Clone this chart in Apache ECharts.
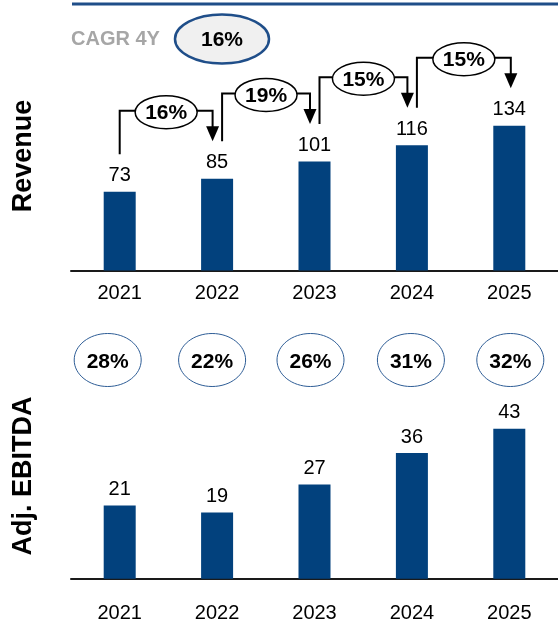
<!DOCTYPE html>
<html>
<head>
<meta charset="utf-8">
<script src="https://cdn.jsdelivr.net/npm/echarts@6/dist/echarts.min.js"></script>
<style>
  html, body { margin: 0; padding: 0; background: #fff; }
  #main { width: 558px; height: 624px; }
</style>
</head>
<body>
<div id="main"></div>
<script>
// data
var years = ['2021', '2022', '2023', '2024', '2025'];
var revenue = [73, 85, 101, 116, 134];
var revenueGrowth = ['16%', '19%', '15%', '15%'];
var ebitda = [21, 19, 27, 36, 43];
var ebitdaMargin = ['28%', '22%', '26%', '31%', '32%'];
var cagrLabel = 'CAGR 4Y';
var cagrValue = '16%';

var FONT = '"Liberation Sans", Arial, sans-serif';
var BAR = '#02417d';
var NAVY = '#1f4e89';
// small horizontal nudges of the margin ovals, as in the picture
var marginNudge = [-12, -5, -4, -1, 1];

var chart = echarts.init(document.getElementById('main'), null, { renderer: 'canvas' });

function bracketItem(params, api) {
  var i = params.dataIndex;
  var p0 = api.coord([i, revenue[i]]);
  var p1 = api.coord([i + 1, revenue[i + 1]]);
  var x0 = p0[0] + (i === 0 ? 0 : 5);
  var x1 = p1[0] + (i + 1 === revenue.length - 1 ? 1.5 : -4.5);
  var yStart = p0[1] - 37.5;
  var yTip = p1[1] - 37.5;
  var yTop = p1[1] - 68;
  var cx = (x0 + x1) / 2;
  var cy = yTop + 1.5;
  return {
    type: 'group',
    children: [
      {
        type: 'polyline',
        shape: { points: [[x0, yStart], [x0, yTop], [x1, yTop], [x1, yTip - 14]] },
        style: { stroke: '#000', lineWidth: 2, fill: null }
      },
      {
        type: 'polygon',
        shape: { points: [[x1 - 6.5, yTip - 15], [x1 + 6.5, yTip - 15], [x1, yTip]] },
        style: { fill: '#000' }
      },
      {
        type: 'ellipse',
        shape: { cx: cx, cy: cy, rx: 31, ry: 16.5 },
        style: { fill: '#fff', stroke: '#000', lineWidth: 1.5 }
      },
      {
        type: 'text',
        x: cx, y: cy + 1,
        style: {
          text: revenueGrowth[i], fontSize: 21, fontWeight: 'bold', fontFamily: FONT,
          fill: '#000', align: 'center', verticalAlign: 'middle'
        }
      }
    ]
  };
}

function marginItem(params, api) {
  var i = params.dataIndex;
  var p = api.coord([i, 0]);
  var cx = p[0] + marginNudge[i];
  return {
    type: 'group',
    children: [
      {
        type: 'ellipse',
        shape: { cx: cx, cy: p[1], rx: 33.5, ry: 26.5 },
        style: { fill: '#fff', stroke: '#2e5d96', lineWidth: 1 }
      },
      {
        type: 'text',
        x: cx, y: p[1] + 2,
        style: {
          text: ebitdaMargin[i], fontSize: 21, fontWeight: 'bold', fontFamily: FONT,
          fill: '#000', align: 'center', verticalAlign: 'middle'
        }
      }
    ]
  };
}

var catAxis = function (gi, show, margin) {
  return {
    type: 'category', gridIndex: gi, data: years,
    axisLine: { show: show, lineStyle: { color: '#1a1a1a', width: 2 } },
    axisTick: { show: false },
    axisLabel: { show: show, margin: margin, fontSize: 20, color: '#000', fontFamily: FONT }
  };
};
var valAxis = function (gi, min, max) {
  return { type: 'value', gridIndex: gi, min: min, max: max, show: false, splitLine: { show: false } };
};

var option = {
  animation: false,
  backgroundColor: '#fff',
  grid: [
    { left: 71, top: 54.5, width: 489, height: 216 },
    { left: 71, top: 333, width: 489, height: 54 },
    { left: 71, top: 369.3, width: 489, height: 209.4 }
  ],
  xAxis: [catAxis(0, true, 13), catAxis(1, false, 0), catAxis(2, true, 25)],
  yAxis: [valAxis(0, 0, 200), valAxis(1, -1, 1), valAxis(2, 0, 60)],
  graphic: [
    { type: 'line', shape: { x1: 72, y1: 4, x2: 558, y2: 4 }, style: { stroke: NAVY, lineWidth: 3 } },
    {
      type: 'text', x: 71, y: 39,
      style: { text: cagrLabel, fontSize: 20, fontWeight: 'bold', fontFamily: FONT, fill: '#a6a6a6', align: 'left', verticalAlign: 'middle' }
    },
    {
      type: 'ellipse', shape: { cx: 222, cy: 39, rx: 47, ry: 24.5 },
      style: { fill: '#f0f0f0', stroke: NAVY, lineWidth: 2.5 }
    },
    {
      type: 'text', x: 222, y: 40,
      style: { text: cagrValue, fontSize: 21, fontWeight: 'bold', fontFamily: FONT, fill: '#000', align: 'center', verticalAlign: 'middle' }
    },
    {
      type: 'text', x: 24, y: 156, rotation: Math.PI / 2,
      style: { text: 'Revenue', fontSize: 27, fontWeight: 'bold', fontFamily: FONT, fill: '#000', align: 'center', verticalAlign: 'middle' }
    },
    {
      type: 'text', x: 24, y: 476, rotation: Math.PI / 2,
      style: { text: 'Adj. EBITDA', fontSize: 27, fontWeight: 'bold', fontFamily: FONT, fill: '#000', align: 'center', verticalAlign: 'middle' }
    }
  ],
  series: [
    {
      type: 'bar', xAxisIndex: 0, yAxisIndex: 0, data: revenue, barWidth: 32,
      itemStyle: { color: BAR },
      label: { show: true, position: 'top', distance: 6, fontSize: 20, color: '#000', fontFamily: FONT }
    },
    {
      type: 'custom', xAxisIndex: 0, yAxisIndex: 0, clip: false,
      data: revenueGrowth.map(function (g, i) { return [i, revenue[i]]; }),
      renderItem: bracketItem, z: 5
    },
    {
      type: 'custom', xAxisIndex: 1, yAxisIndex: 1, clip: false,
      data: ebitdaMargin.map(function (m, i) { return [i, 0]; }),
      renderItem: marginItem
    },
    {
      type: 'bar', xAxisIndex: 2, yAxisIndex: 2, data: ebitda, barWidth: 32,
      itemStyle: { color: BAR },
      label: { show: true, position: 'top', distance: 6, fontSize: 20, color: '#000', fontFamily: FONT }
    }
  ]
};

chart.setOption(option);
</script>
</body>
</html>
